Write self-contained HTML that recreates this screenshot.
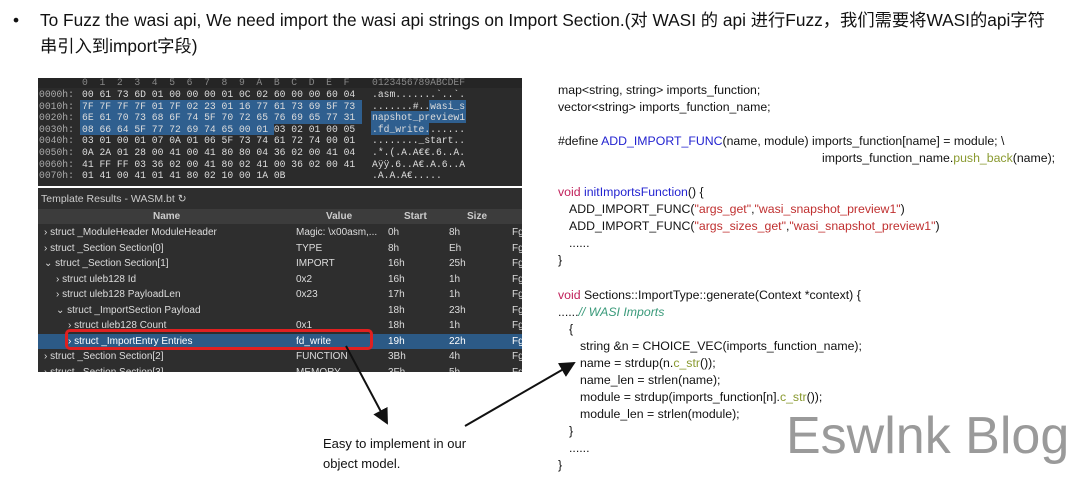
<!DOCTYPE html>
<html><head><meta charset="utf-8"><style>
body{margin:0;width:1080px;height:482px;background:#fff;position:relative;overflow:hidden;font-family:"Liberation Sans","Noto Sans CJK SC",sans-serif}
.a{position:absolute;white-space:nowrap}
.t{font-size:17.3px;color:#111;line-height:26px}
.hex{position:absolute;left:38px;top:78px;width:484px;height:108px;background:#2b2b2b;font-family:"Liberation Mono","DejaVu Sans Mono",monospace;font-size:9.7px;color:#ddd}
.hex div{position:absolute;white-space:pre}
.tp{position:absolute;left:38px;top:188px;width:484px;height:184px;background:#2e2e2e;overflow:hidden;font-size:10px;color:#ddd}
.row{position:absolute;left:0;width:484px;height:15px;line-height:15px}
.row span{position:absolute;white-space:nowrap}
.c{font-size:12.3px;color:#111;line-height:17px}
.b{color:#2323d0}.r{color:#c03030}.g{color:#8a9a30}.k{color:#c0205a}.cm{color:#3a9a7a;font-style:italic}
</style></head><body>
<div class="a t" style="left:13px;top:7px">•</div>
<div class="a t" style="left:40px;top:7px">To Fuzz the wasi api, We need import the wasi api strings on Import Section.(对 WASI 的 api 进行Fuzz，我们需要将WASI的api字符</div>
<div class="a t" style="left:40px;top:33px">串引入到import字段)</div>

<div class="hex">
<div style="left:0;top:0;width:484px;height:10px;background:#252525"></div>
<div style="left:44px;top:0;color:#888;line-height:10px">0  1  2  3  4  5  6  7  8  9  A  B  C  D  E  F</div>
<div style="left:334px;top:0;color:#888;line-height:10px">0123456789ABCDEF</div>
<div style="left:42px;top:22px;width:282px;height:24px;background:#2f5f8f"></div>
<div style="left:42px;top:45px;width:194px;height:12px;background:#2f5f8f"></div>
<div style="left:391px;top:22px;width:37px;height:12px;background:#2f5f8f"></div>
<div style="left:333px;top:33px;width:95px;height:12px;background:#2f5f8f"></div>
<div style="left:333px;top:45px;width:58px;height:12px;background:#2f5f8f"></div>
<div style="left:1px;top:11px;color:#aaa;line-height:11.6px">0000h:
0010h:
0020h:
0030h:
0040h:
0050h:
0060h:
0070h:</div>
<div style="left:44px;top:11px;line-height:11.6px">00 61 73 6D 01 00 00 00 01 0C 02 60 00 00 60 04
7F 7F 7F 7F 01 7F 02 23 01 16 77 61 73 69 5F 73
6E 61 70 73 68 6F 74 5F 70 72 65 76 69 65 77 31
08 66 64 5F 77 72 69 74 65 00 01 03 02 01 00 05
03 01 00 01 07 0A 01 06 5F 73 74 61 72 74 00 01
0A 2A 01 28 00 41 00 41 80 80 04 36 02 00 41 04
41 FF FF 03 36 02 00 41 80 02 41 00 36 02 00 41
01 41 00 41 01 41 80 02 10 00 1A 0B</div>
<div style="left:334px;top:11px;line-height:11.6px">.asm.......`..`.
.......#..wasi_s
napshot_preview1
.fd_write.......
........_start..
.*.(.A.A€€.6..A.
Aÿÿ.6..A€.A.6..A
.A.A.A€.....</div>
</div>

<div class="tp">
<div class="row" style="top:4px;font-size:10.5px;color:#ccc"><span style="left:3px">Template Results - WASM.bt ↻</span></div>
<div class="row" style="top:21px;background:#3c3c3c;font-weight:bold;color:#ccc"><span style="left:115px">Name</span><span style="left:288px">Value</span><span style="left:366px">Start</span><span style="left:429px">Size</span></div>
<div class="row" style="top:37px"><span style="left:6px">› struct _ModuleHeader ModuleHeader</span><span style="left:258px">Magic: \x00asm,...</span><span style="left:350px">0h</span><span style="left:411px">8h</span><span style="left:474px">Fg</span></div>
<div class="row" style="top:53px"><span style="left:6px">› struct _Section Section[0]</span><span style="left:258px">TYPE</span><span style="left:350px">8h</span><span style="left:411px">Eh</span><span style="left:474px">Fg</span></div>
<div class="row" style="top:68px"><span style="left:6px">⌄ struct _Section Section[1]</span><span style="left:258px">IMPORT</span><span style="left:350px">16h</span><span style="left:411px">25h</span><span style="left:474px">Fg</span></div>
<div class="row" style="top:84px"><span style="left:18px">› struct uleb128 Id</span><span style="left:258px">0x2</span><span style="left:350px">16h</span><span style="left:411px">1h</span><span style="left:474px">Fg</span></div>
<div class="row" style="top:99px"><span style="left:18px">› struct uleb128 PayloadLen</span><span style="left:258px">0x23</span><span style="left:350px">17h</span><span style="left:411px">1h</span><span style="left:474px">Fg</span></div>
<div class="row" style="top:115px"><span style="left:18px">⌄ struct _ImportSection Payload</span><span style="left:350px">18h</span><span style="left:411px">23h</span><span style="left:474px">Fg</span></div>
<div class="row" style="top:130px"><span style="left:30px">› struct uleb128 Count</span><span style="left:258px">0x1</span><span style="left:350px">18h</span><span style="left:411px">1h</span><span style="left:474px">Fg</span></div>
<div class="row" style="top:146px;background:#2c5a86;color:#fff"><span style="left:30px">› struct _ImportEntry Entries</span><span style="left:258px">fd_write</span><span style="left:350px">19h</span><span style="left:411px">22h</span><span style="left:474px">Fg</span></div>
<div class="row" style="top:161px"><span style="left:6px">› struct _Section Section[2]</span><span style="left:258px">FUNCTION</span><span style="left:350px">3Bh</span><span style="left:411px">4h</span><span style="left:474px">Fg</span></div>
<div class="row" style="top:177px"><span style="left:6px">› struct _Section Section[3]</span><span style="left:258px">MEMORY</span><span style="left:350px">3Fh</span><span style="left:411px">5h</span><span style="left:474px">Fg</span></div>
<div style="position:absolute;left:27px;top:141px;width:308px;height:21px;border:3px solid #e02020;border-radius:5px;box-sizing:border-box"></div>
</div>

<svg style="position:absolute;left:0;top:0" width="1080" height="482">
<defs><marker id="m" markerWidth="8" markerHeight="8" refX="7" refY="4" orient="auto"><path d="M0,0L8,4L0,8z" fill="#111"/></marker></defs>
<line x1="346" y1="346" x2="387" y2="423" stroke="#111" stroke-width="2" marker-end="url(#m)"/>
<line x1="465" y1="426" x2="574" y2="363" stroke="#111" stroke-width="2" marker-end="url(#m)"/>
</svg>
<div class="a" style="left:323px;top:434px;font-size:13px;line-height:20px;color:#111">Easy to implement in our<br>object model.</div>

<div class="a c" style="left:558px;top:82px">map&lt;string, string&gt; imports_function;</div>
<div class="a c" style="left:558px;top:99px">vector&lt;string&gt; imports_function_name;</div>
<div class="a c" style="left:558px;top:133px">#define <span class="b">ADD_IMPORT_FUNC</span>(name, module) imports_function[name] = module; \</div>
<div class="a c" style="left:822px;top:150px">imports_function_name.<span class="g">push_back</span>(name);</div>
<div class="a c" style="left:558px;top:184px"><span class="k">void</span> <span class="b">initImportsFunction</span>() {</div>
<div class="a c" style="left:569px;top:201px">ADD_IMPORT_FUNC(<span class="r">"args_get"</span>,<span class="r">"wasi_snapshot_preview1"</span>)</div>
<div class="a c" style="left:569px;top:218px">ADD_IMPORT_FUNC(<span class="r">"args_sizes_get"</span>,<span class="r">"wasi_snapshot_preview1"</span>)</div>
<div class="a c" style="left:569px;top:235px">......</div>
<div class="a c" style="left:558px;top:252px">}</div>
<div class="a c" style="left:558px;top:287px"><span class="k">void</span> Sections::ImportType::generate(Context *context) {</div>
<div class="a c" style="left:558px;top:304px">......<span class="cm">// WASI Imports</span></div>
<div class="a c" style="left:569px;top:321px">{</div>
<div class="a c" style="left:580px;top:338px">string &amp;n = CHOICE_VEC(imports_function_name);</div>
<div class="a c" style="left:580px;top:355px">name = strdup(n.<span class="g">c_str</span>());</div>
<div class="a c" style="left:580px;top:372px">name_len = strlen(name);</div>
<div class="a c" style="left:580px;top:389px">module = strdup(imports_function[n].<span class="g">c_str</span>());</div>
<div class="a c" style="left:580px;top:406px">module_len = strlen(module);</div>
<div class="a c" style="left:569px;top:423px">}</div>
<div class="a c" style="left:569px;top:440px">......</div>
<div class="a c" style="left:558px;top:457px">}</div>

<div class="a" style="left:786px;top:404px;font-size:52px;color:#9a9a9a;line-height:64px">Eswlnk Blog</div>
</body></html>
